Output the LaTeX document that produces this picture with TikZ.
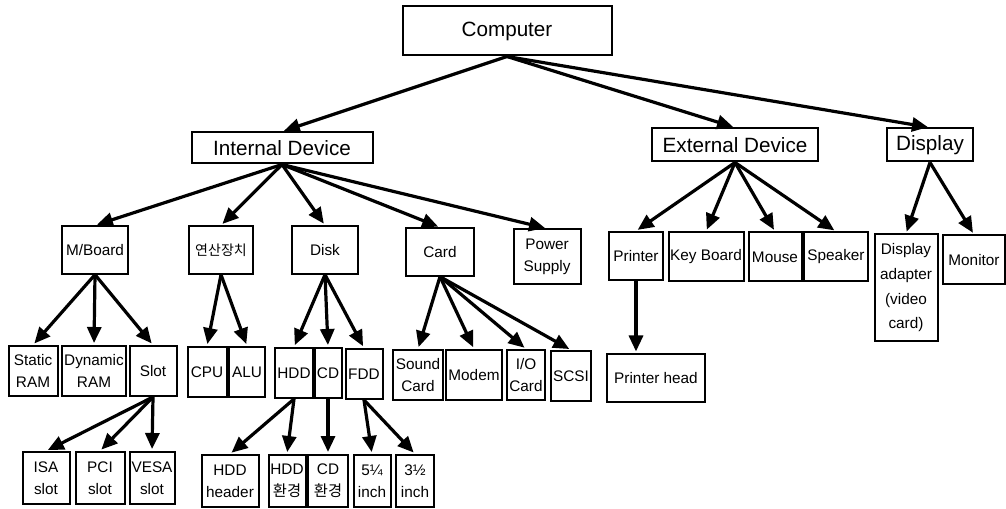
\documentclass[tikz,border=0pt]{standalone}
\usepackage{fontspec}
\setmainfont{Liberation Sans}
\newfontfamily\kr{Noto Sans CJK KR}
\usetikzlibrary{arrows.meta}

\begin{document}
\begin{tikzpicture}[x=0.75pt,y=-0.75pt,
    box/.style={draw=black,line width=1.5pt,inner sep=0pt,align=center,font=\fontsize{11.5}{16.5}\selectfont},
    big/.style={box,font=\fontsize{15.5}{18}\selectfont,minimum height=24.75pt},
    lvtwo/.style={box,minimum height=35.5pt},
    lvthree/.style={box,minimum height=37.5pt},
    lvfour/.style={box,minimum height=39pt},
    arr/.style={-{Triangle[length=12pt,width=10.5pt]},line width=2.4pt,shorten >=1.5pt}]
    \useasboundingbox (0,0) rectangle (1006,509);
    \node[big,minimum width=156.75pt,minimum height=36.75pt] (Computer) at (507,31) {Computer};
    \node[big,minimum width=135.75pt,minimum height=23.25pt] (Internal) at (282,148) {Internal Device};
    \node[big,minimum width=124.5pt] (External) at (735,145) {External Device};
    \node[big,minimum width=64.5pt] (Display) at (930,145) {Display};
    \node[lvtwo,minimum width=49.5pt] (MBoard) at (95,250) {M/Board};
    \node[lvtwo,minimum width=48pt,font=\kr\fontsize{10.5}{14}\selectfont] (Arith) at (221,250) {연산장치};
    \node[lvtwo,minimum width=49.5pt] (Disk) at (325,250) {Disk};
    \node[lvtwo,minimum width=51pt] (Card) at (440,252) {Card};
    \node[lvtwo,minimum width=50.25pt,minimum height=41.25pt] (Power) at (547,257) {Power\\Supply};
    \node[lvtwo,minimum width=40.5pt,minimum height=36pt] (Printer) at (636,256) {Printer};
    \node[lvtwo,minimum width=56.25pt,minimum height=36.75pt] (KeyBoard) at (706,257) {Key Board};
    \node[lvtwo,minimum width=39.75pt,minimum height=36.75pt] (Mouse) at (775,257) {Mouse};
    \node[lvtwo,minimum width=48pt,minimum height=36.75pt] (Speaker) at (836,257) {Speaker};
    \node[lvtwo,minimum width=47.25pt,minimum height=80.25pt,font=\fontsize{11.5}{18.5}\selectfont] (Adapter) at (906,288) {Display\\adapter\\(video\\card)};
    \node[lvtwo,minimum width=46.5pt,minimum height=36.75pt] (Monitor) at (974,260) {Monitor};
    \node[lvthree,minimum width=36.75pt] (Static) at (33,371) {Static\\RAM};
    \node[lvthree,minimum width=48pt] (Dynamic) at (94,371) {Dynamic\\RAM};
    \node[lvthree,minimum width=35.25pt] (Slot) at (153,371) {Slot};
    \node[lvthree,minimum width=29.25pt] (CPU) at (207,372) {CPU};
    \node[lvthree,minimum width=27pt] (ALU) at (247,372) {ALU};
    \node[lvthree,minimum width=28.5pt] (HDD) at (294,373) {HDD};
    \node[lvthree,minimum width=20.25pt] (CD) at (328,373) {CD};
    \node[lvthree,minimum width=27.75pt] (FDD) at (364,374) {FDD};
    \node[lvthree,minimum width=37.5pt] (Sound) at (418,375) {Sound\\Card};
    \node[lvthree,minimum width=42pt] (Modem) at (474,375) {Modem};
    \node[lvthree,minimum width=28.5pt] (IOCard) at (526,375) {I/O\\Card};
    \node[lvthree,minimum width=30pt] (SCSI) at (571,376) {SCSI};
    \node[lvthree,minimum width=73.5pt,minimum height=35.25pt] (PrinterHead) at (656,378) {Printer head};
    \node[lvfour,minimum width=35.25pt] (ISA) at (46,478) {ISA\\slot};
    \node[lvfour,minimum width=36.75pt] (PCI) at (100,478) {PCI\\slot};
    \node[lvfour,minimum width=33.75pt] (VESA) at (152,478) {VESA\\slot};
    \node[lvfour,minimum width=42.75pt] (HDDheader) at (230,481) {HDD\\header};
    \node[lvfour,minimum width=27.75pt] (HDDenv) at (287,481) {HDD\\{\kr 환경}};
    \node[lvfour,minimum width=30pt] (CDenv) at (328,481) {CD\\{\kr 환경}};
    \node[lvfour,minimum width=27.75pt] (FiveQ) at (372,481) {5¼\\inch};
    \node[lvfour,minimum width=28.5pt] (ThreeH) at (415,481) {3½\\inch};
    \draw[arr] (Computer.south) -- (Internal.north);
    \draw[arr] (Computer.south) -- (External.north);
    \draw[arr] (Computer.south) -- (Display.north);
    \draw[arr] (Internal.south) -- (MBoard.north);
    \draw[arr] (Internal.south) -- (Arith.north);
    \draw[arr] (Internal.south) -- (Disk.north);
    \draw[arr] (Internal.south) -- (Card.north);
    \draw[arr] (Internal.south) -- (Power.north);
    \draw[arr] (MBoard.south) -- (Static.north);
    \draw[arr] (MBoard.south) -- (Dynamic.north);
    \draw[arr] (MBoard.south) -- (Slot.north);
    \draw[arr] (Slot.south) -- (ISA.north);
    \draw[arr] (Slot.south) -- (PCI.north);
    \draw[arr] (Slot.south) -- (VESA.north);
    \draw[arr] (Arith.south) -- (CPU.north);
    \draw[arr] (Arith.south) -- (ALU.north);
    \draw[arr] (Disk.south) -- (HDD.north);
    \draw[arr] (Disk.south) -- (CD.north);
    \draw[arr] (Disk.south) -- (FDD.north);
    \draw[arr] (HDD.south) -- (HDDheader.north);
    \draw[arr] (HDD.south) -- (HDDenv.north);
    \draw[arr] (CD.south) -- (CDenv.north);
    \draw[arr] (FDD.south) -- (FiveQ.north);
    \draw[arr] (FDD.south) -- (ThreeH.north);
    \draw[arr] (Card.south) -- (Sound.north);
    \draw[arr] (Card.south) -- (Modem.north);
    \draw[arr] (Card.south) -- (IOCard.north);
    \draw[arr] (Card.south) -- (SCSI.north);
    \draw[arr] (External.south) -- (Printer.north);
    \draw[arr] (External.south) -- (KeyBoard.north);
    \draw[arr] (External.south) -- (Mouse.north);
    \draw[arr] (External.south) -- (Speaker.north);
    \draw[arr] (Printer.south) -- (Printer.south |- PrinterHead.north);
    \draw[arr] (Display.south) -- (Adapter.north);
    \draw[arr] (Display.south) -- (Monitor.north);
\end{tikzpicture}
\end{document}
